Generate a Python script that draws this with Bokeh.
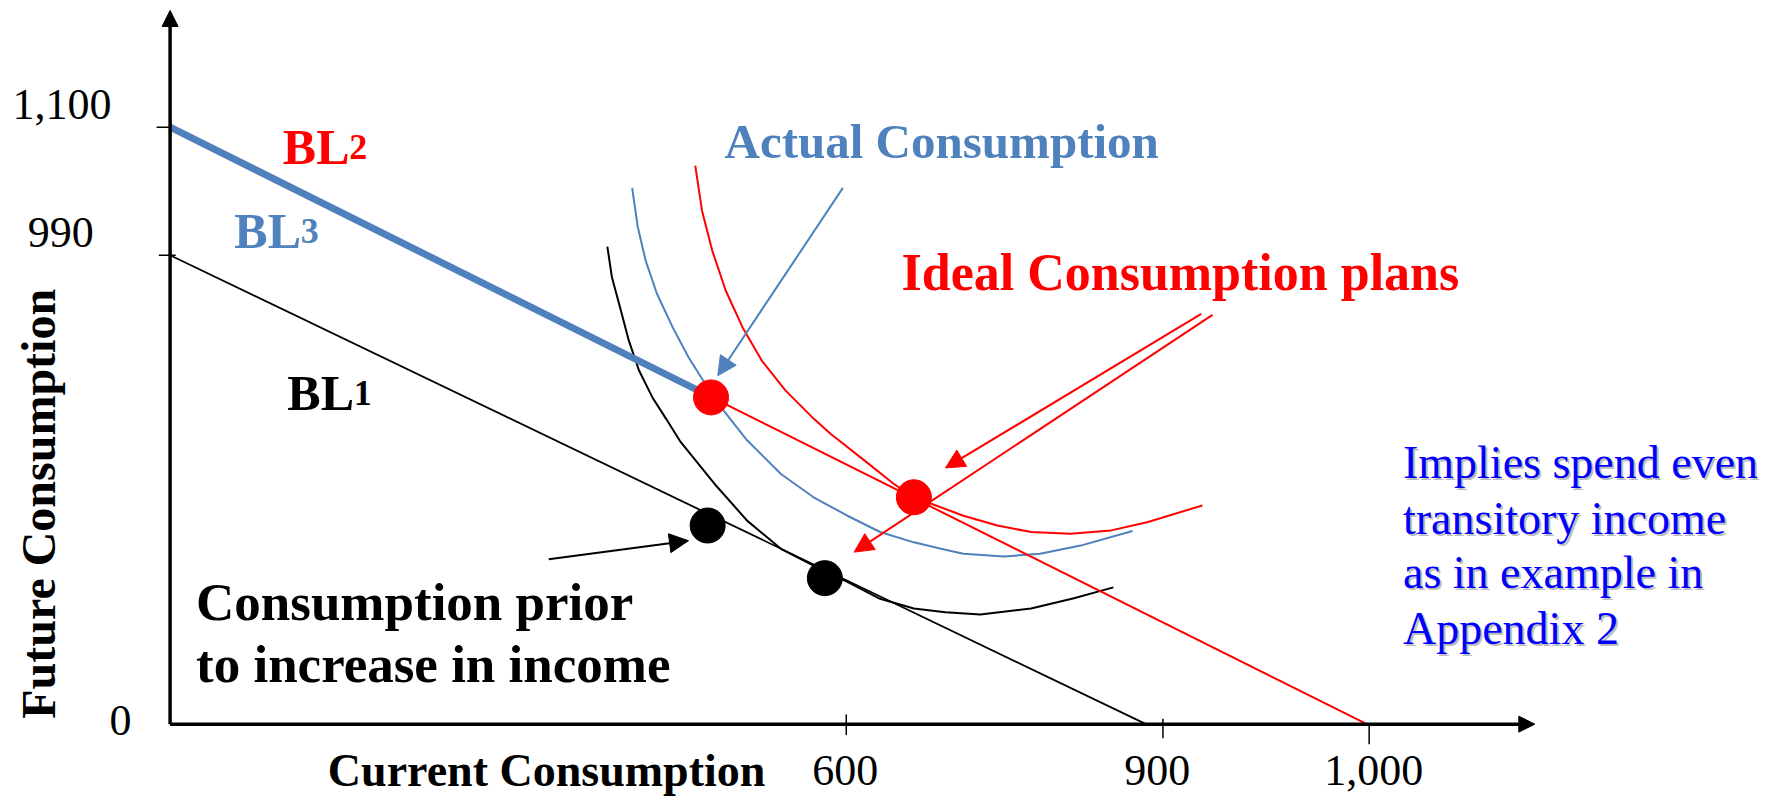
from bokeh.plotting import figure
from bokeh.models import Range1d, Arrow, NormalHead
from bokeh.core.properties import value
from bokeh.embed import file_html
from bokeh.resources import INLINE

# ---------------- data (diagram units) ----------------
x_tick_pos = [600, 881, 1064]
x_tick_labels = ["600", "900", "1,000"]
y_tick_pos = [0, 864, 1100]
y_tick_labels = ["0", "990", "1,100"]

bl1_x = [0, 866]
bl1_y = [864, 0]
bl2_x = [0, 1062]
bl2_y = [1100, 0]
bl3_x = [0, 480]
bl3_y = [1100, 603]

ic_black_x = [388, 392, 400, 407, 416, 428, 440, 453, 483, 512, 542, 571, 601,
              630, 660, 688, 719, 764, 802, 837]
ic_black_y = [880, 824, 762, 707, 652, 602, 563, 520, 443, 375, 323, 292, 262,
              231, 213, 206, 202, 213, 232, 252]
ic_blue_x = [410, 415, 422, 432, 446, 460, 474, 490, 512, 542, 571, 601, 630,
             660, 684, 704, 740, 772, 808, 854]
ic_blue_y = [988, 916, 854, 793, 731, 676, 630, 581, 523, 461, 418, 384, 354,
             335, 323, 314, 309, 314, 329, 356]
ic_red_x = [466, 472, 481, 493, 508, 525, 546, 571, 586, 616, 642, 660, 704,
            734, 764, 799, 835, 867, 916]
ic_red_y = [1029, 946, 873, 799, 731, 670, 615, 563, 535, 486, 443, 418, 384,
            366, 354, 351, 357, 372, 403]

red_dot_x = [480, 660]
red_dot_y = [602, 418]
black_dot_x = [477, 581]
black_dot_y = [366, 269]

# annotation arrows: (x_start, y_start, x_end, y_end, colour)
arrows = [
    (597, 988, 486, 642, "#4F81BD"),
    (915, 756, 688, 472, "#FF0000"),
    (925, 754, 607, 317, "#FF0000"),
    (336, 304, 460, 338, "#000000"),
]

# ---------------- layout ----------------
W, H = 1773, 798
SX = 1.12694          # px per x unit
SY = 0.54274          # px per y unit
OX = 169.6            # canvas px of x = 0
OY = 723.65           # canvas px (from top) of y = 0

p = figure(width=W, height=H, output_backend="svg", toolbar_location=None,
           x_range=Range1d(-OX / SX, (W - OX) / SX),
           y_range=Range1d(-(H - OY) / SY, OY / SY),
           x_axis_type=None, y_axis_type=None, min_border=0)
p.grid.visible = False
p.outline_line_color = None
p.background_fill_color = "white"

SERIF = value("Liberation Serif")

# axes with arrow heads
p.add_layout(Arrow(end=NormalHead(size=16, fill_color="black", line_color="black"),
                   x_start=0, y_start=0, x_end=0, y_end=1315, line_width=3.5, line_color="black"))
p.add_layout(Arrow(end=NormalHead(size=16, fill_color="black", line_color="black"),
                   x_start=0, y_start=0, x_end=1211, y_end=0, line_width=3.5, line_color="black"))

# ticks
p.segment(x0=[-12, -10], y0=[y_tick_pos[2], y_tick_pos[1]], x1=[0, 5],
          y1=[y_tick_pos[2], y_tick_pos[1]], line_color="black", line_width=1.5)
p.segment(x0=x_tick_pos, y0=[18, 10, 0], x1=x_tick_pos, y1=[-20, -26, -37],
          line_color="black", line_width=1.5)

# tick labels
p.text(x=[599, 876, 1068], y=[-85, -85, -85], text=x_tick_labels,
       text_font=SERIF, text_font_size="44px", text_align="center",
       text_baseline="alphabetic", text_color="black")
p.text(x=[-44, -97, -96], y=[6, 906, 1141], text=y_tick_labels,
       text_font=SERIF, text_font_size="44px", text_align="center",
       text_baseline="alphabetic", text_color="black")

# indifference curves
p.line(ic_black_x, ic_black_y, line_color="black", line_width=2)
p.line(ic_blue_x, ic_blue_y, line_color="#4F81BD", line_width=2)
p.line(ic_red_x, ic_red_y, line_color="#FF0000", line_width=2)

# budget lines
p.line(bl1_x, bl1_y, line_color="black", line_width=1.8)
p.line(bl2_x, bl2_y, line_color="#FF0000", line_width=2)
p.line(bl3_x, bl3_y, line_color="#4F81BD", line_width=7)

# consumption points
p.scatter(red_dot_x, red_dot_y, size=35, fill_color="#FF0000", line_color="#FF0000")
p.scatter(black_dot_x, black_dot_y, size=35, fill_color="black", line_color="black")

# annotation arrows
for xs, ys, xe, ye, c in arrows:
    p.add_layout(Arrow(end=NormalHead(size=19, fill_color=c, line_color=c),
                       x_start=xs, y_start=ys, x_end=xe, y_end=ye,
                       line_color=c, line_width=2))

# bold labels
def bold(x, y, txt, color, size="50px"):
    p.text(x=[x], y=[y], text=[txt], text_font=SERIF, text_font_style="bold",
           text_font_size=size, text_color=color, text_align="left",
           text_baseline="alphabetic")

bold(100, 1064, "BL", "#FF0000")
bold(159, 1064, "2", "#FF0000", "36px")
bold(57, 908, "BL", "#4F81BD")
bold(116, 908, "3", "#4F81BD", "36px")
bold(104, 610, "BL", "black")
bold(163, 610, "1", "black", "36px")

bold(492, 1073, "Actual Consumption", "#4F81BD", "49px")
bold(649, 833, "Ideal Consumption plans", "#FF0000", "52px")
bold(23, 225, "Consumption prior", "black", "53px")
bold(23, 110, "to increase in income", "black", "53px")
bold(140, -85, "Current Consumption", "black", "46px")

p.text(x=[-117], y=[406], text=["Future Consumption"], text_font=SERIF,
       text_font_style="bold", text_font_size="48px", text_color="black",
       text_align="center", text_baseline="middle", angle=1.5708)

# blue note with soft shadow
note_lines = ["Implies spend even", "transitory income", "as in example in", "Appendix 2"]
note_y = [483, 379, 280, 177]
p.text(x=[1094 + 2 / SX] * 4, y=[v - 2 / SY for v in note_y], text=note_lines,
       text_font=SERIF, text_font_size="46px", text_color="#909090", text_alpha=0.6,
       text_align="left", text_baseline="alphabetic")
p.text(x=[1094] * 4, y=note_y, text=note_lines,
       text_font=SERIF, text_font_size="46px", text_color="#0000FF",
       text_align="left", text_baseline="alphabetic")

open("out.html", "w").write(file_html(p, INLINE))
